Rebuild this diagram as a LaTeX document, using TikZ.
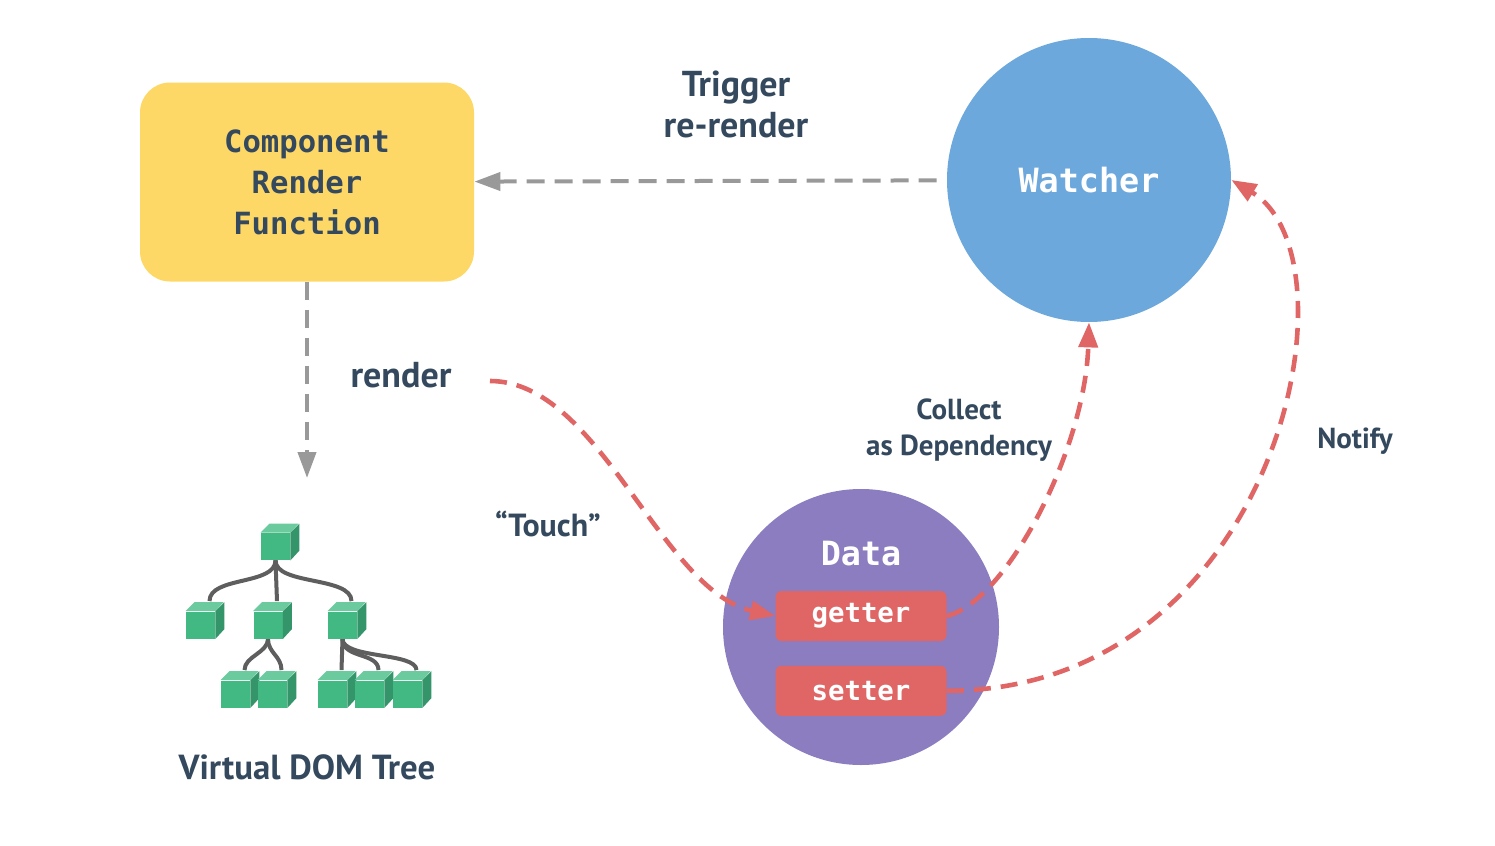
\documentclass[tikz,border=0pt]{standalone}
\usepackage{fontspec}
\setmainfont{PT Sans}
\newfontfamily\codefont{DejaVu Sans Mono}
\usetikzlibrary{arrows.meta,backgrounds,positioning}
\definecolor{vyellow}{HTML}{FDD866}
\definecolor{vblue}{HTML}{6CA8DC}
\definecolor{vpurple}{HTML}{8C7CC0}
\definecolor{vred}{HTML}{E06666}
\definecolor{vgreen}{HTML}{42B883}
\definecolor{vgreenl}{HTML}{6BCB9F}
\definecolor{vgreend}{HTML}{34946A}
\definecolor{vtext}{HTML}{34495E}
\definecolor{vgray}{HTML}{999999}
\definecolor{vline}{HTML}{5E5E5E}
\tikzset{
  comp/.style={fill=vyellow,rounded corners=15pt,minimum width=167pt,minimum height=99.5pt,align=center,text=vtext,font=\codefont\bfseries\fontsize{15.3}{20.5}\selectfont},
  bubble/.style={circle,inner sep=0pt,text=white,font=\codefont\bfseries\fontsize{16.7}{20}\selectfont},
  acc/.style={fill=vred,rounded corners=3pt,minimum width=85.5pt,minimum height=25pt,inner sep=0pt,text=white,font=\codefont\bfseries\fontsize{13.7}{16}\selectfont},
  lbl/.style={text=vtext,align=center,font=\bfseries\fontsize{18}{20.5}\selectfont},
  slbl/.style={text=vtext,align=center,font=\bfseries\fontsize{14.5}{18}\selectfont},
  cubefront/.style={fill=vgreen,inner sep=0pt,minimum width=14.5pt,minimum height=13.5pt},
  grayarrow/.style={draw=vgray,line width=2pt,dash pattern=on 9pt off 5pt,-{Triangle[length=13pt,width=9pt]}},
  redarrow/.style={draw=vred,line width=2.3pt,dash pattern=on 8.5pt off 5pt,-{Triangle[length=12.5pt,width=9.5pt]}},
  branch/.style={draw=vline,line width=2pt}
}
\newcommand{\vcube}[3]{%
  \node[cubefront] (#1) at (#2,#3) {};
  \fill[vgreenl] (#1.north west) -- ++(9,-9) -- ++(29,0) -- (#1.north east) -- cycle;
  \fill[vgreend] (#1.north east) -- ++(9,-9) -- ++(0,27) -- (#1.south east) -- cycle;
}
\begin{document}
\begin{tikzpicture}[x=0.5pt,y=-0.5pt]
  \useasboundingbox (0,0) rectangle (1495,846);
  \node[comp] (crf) at (307,182) {Component\\Render\\Function};
  \node[bubble,fill=vblue,minimum size=142pt] (watcher) at (1089,180) {Watcher};
  \node[bubble,fill=vpurple,minimum size=138pt] (data) at (861,627) {};
  \node[bubble] (datatxt) at (861,554) {Data};
  \node[acc] (getter) at (861,616) {getter};
  \node[acc,below=12pt of getter] (setter) {setter};
  \node[lbl] (trigger) at (736,104) {Trigger\\re-render};
  \node[lbl] (rendertxt) at (401,375) {render};
  \node[lbl,font=\bfseries\fontsize{16}{18}\selectfont] (touch) at (548,524) {“Touch”};
  \node[slbl] (collect) at (959,430) {Collect\\as Dependency};
  \node[slbl] (notify) at (1355,441) {Notify};
  \node[lbl,font=\bfseries\fontsize{17.4}{20}\selectfont] (vdom) at (307,767) {Virtual DOM Tree};
  \coordinate (vtop) at (307,478);
  \coordinate (touchstart) at (490,381);
  \draw[grayarrow,shorten <=5pt] (watcher) -- (crf);
  \draw[grayarrow] (crf) -- (vtop);
  \draw[redarrow] (touchstart) .. controls (600,381) and (660,590) .. (getter.west);
  \draw[redarrow] (getter.east) .. controls +(60,-15) and +(-4,127) .. (watcher.south);
  \draw[redarrow] (setter.east) .. controls +(330,0) and +(132,79) .. (watcher.east);
  \vcube{root}{275.5}{546.5}
  \vcube{ca}{200.5}{625}
  \vcube{cb}{268}{625}
  \vcube{cc}{342.5}{625}
  \vcube{cba}{235.5}{694}
  \vcube{cbb}{272.5}{694}
  \vcube{cca}{332.5}{694}
  \vcube{ccb}{369.5}{694}
  \vcube{ccc}{407.5}{694}
  \begin{scope}[on background layer]
    \draw[branch] (root.south) .. controls +(0,25) and +(0,-25) .. ([shift={(9,-10)}]ca.north);
    \draw[branch] (root.south) -- ([shift={(9,-10)}]cb.north);
    \draw[branch] (root.south) .. controls +(0,25) and +(0,-25) .. ([shift={(9,-10)}]cc.north);
    \draw[branch] (cb.south) .. controls +(0,14) and +(0,-14) .. ([shift={(9,-10)}]cba.north);
    \draw[branch] (cb.south) .. controls +(0,14) and +(0,-14) .. ([shift={(9,-10)}]cbb.north);
    \draw[branch] (cc.south) -- ([shift={(9,-10)}]cca.north);
    \draw[branch] (cc.south) .. controls +(0,20) and +(0,-18) .. ([shift={(9,-10)}]ccb.north);
    \draw[branch] (cc.south) .. controls +(0,20) and +(0,-18) .. ([shift={(9,-10)}]ccc.north);
  \end{scope}
\end{tikzpicture}
\end{document}
